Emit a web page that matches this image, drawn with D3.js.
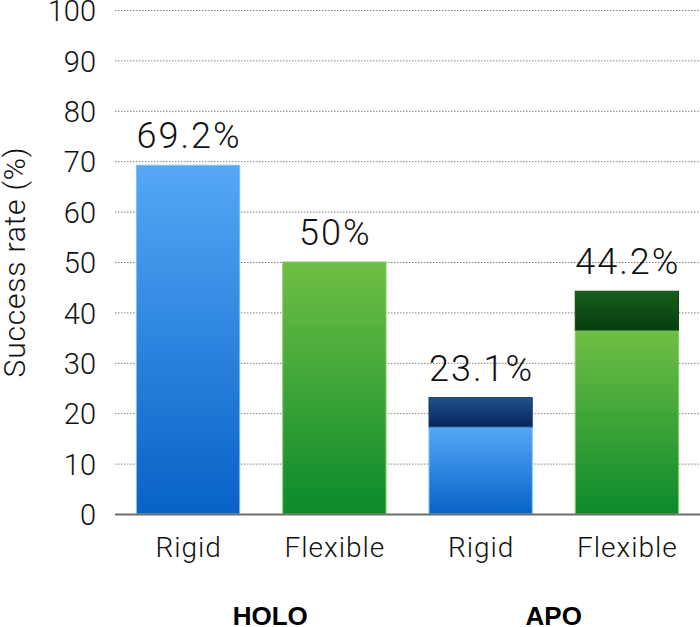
<!DOCTYPE html>
<html>
<head>
<meta charset="utf-8">
<script src="https://cdn.jsdelivr.net/npm/d3@7"></script>
<style>
  html, body { margin: 0; padding: 0; background: #fff; }
  svg { display: block; }
</style>
</head>
<body>
<svg id="chart" width="700" height="627"></svg>
<script>
// ---- data ----
const categories = ["Rigid", "Flexible", "Rigid", "Flexible"];
const groups = ["HOLO", "HOLO", "APO", "APO"];
const groupNames = ["HOLO", "APO"];
const totals = [69.2, 50, 23.1, 44.2];
const lowerValues = [69.2, 50, 17.3, 36.5];
const valueLabels = ["69.2%", "50%", "23.1%", "44.2%"];
const colorKinds = ["blue", "green", "blue", "green"];
const yTicks = [0, 10, 20, 30, 40, 50, 60, 70, 80, 90, 100];

// ---- layout ----
const svg = d3.select("#chart");
const x0 = 115, x1 = 700, yBottom = 514, yTop = 10;
const groupLabelShift = { HOLO: 9, APO: 0 };
const lightFont = "Roboto, 'Helvetica Neue', Helvetica, Arial, sans-serif";

const x = d3.scaleBand().domain(d3.range(categories.length))
  .range([x0, x1]).paddingInner(0.287).paddingOuter(0.1435);
const y = d3.scaleLinear().domain([0, 100]).range([yBottom, yTop]);

// gradients
const defs = svg.append("defs");
function grad(id, top, bottom) {
  const g = defs.append("linearGradient").attr("id", id)
    .attr("x1", 0).attr("y1", 0).attr("x2", 0).attr("y2", 1);
  g.append("stop").attr("offset", "0%").attr("stop-color", top);
  g.append("stop").attr("offset", "100%").attr("stop-color", bottom);
}
grad("g-blue", "#54a8f6", "#0862c6");
grad("g-green", "#6fbf45", "#0c8a2b");
grad("g-blue-dark", "#1f4f8c", "#05265a");
grad("g-green-dark", "#185e1c", "#063d0e");
const edge = { blue: "#7cc0fa", green: "#86cc5e", "blue-dark": "#17406f", "green-dark": "#0c4812" };

// gridlines
svg.append("g").selectAll("line").data(yTicks.filter(d => d > 0)).join("line")
  .attr("x1", x0).attr("x2", x1)
  .attr("y1", d => y(d) + 0.5).attr("y2", d => y(d) + 0.5)
  .attr("stroke", "#808080").attr("stroke-width", 1)
  .attr("stroke-dasharray", "1.5,1.5");

// y axis labels
const yAxis = d3.axisLeft(y).tickValues(yTicks).tickSize(0).tickPadding(0);
const ga = svg.append("g").attr("transform", `translate(96,0)`).call(yAxis);
ga.select(".domain").remove();
ga.selectAll("text")
  .attr("font-family", lightFont).attr("font-weight", 300)
  .attr("font-size", 29).attr("fill", "#111")
  .attr("dy", "0.37em");

// y title
svg.append("text")
  .attr("transform", `translate(25,${y(50)}) rotate(-90)`)
  .attr("text-anchor", "middle")
  .attr("font-family", lightFont).attr("font-weight", 300)
  .attr("font-size", 30).attr("letter-spacing", 0.8).attr("fill", "#111")
  .text("Success rate (%)");

// bars
const bars = svg.append("g");
categories.forEach((c, i) => {
  const kind = colorKinds[i];
  const bx = x(i), bw = x.bandwidth();
  bars.append("rect")
    .attr("x", bx + 0.5).attr("width", bw - 1)
    .attr("y", y(lowerValues[i])).attr("height", y(0) - y(lowerValues[i]))
    .attr("fill", `url(#g-${kind})`)
    .attr("stroke", edge[kind]).attr("stroke-width", 1);
  if (totals[i] > lowerValues[i]) {
    bars.append("rect")
      .attr("x", bx + 0.5).attr("width", bw - 1)
      .attr("y", y(totals[i])).attr("height", y(lowerValues[i]) - y(totals[i]))
      .attr("fill", `url(#g-${kind}-dark)`)
      .attr("stroke", edge[kind + "-dark"]).attr("stroke-width", 1);
  }
  svg.append("text")
    .attr("x", bx + bw / 2 + 1).attr("y", y(totals[i]) - 17)
    .attr("text-anchor", "middle")
    .attr("font-family", lightFont).attr("font-weight", 300)
    .attr("font-size", 36).attr("letter-spacing", 2).attr("fill", "#111")
    .text(valueLabels[i]);
  svg.append("text")
    .attr("x", bx + bw / 2 + 0.5).attr("y", 557)
    .attr("text-anchor", "middle")
    .attr("font-family", lightFont).attr("font-weight", 300)
    .attr("font-size", 28).attr("letter-spacing", 1).attr("fill", "#111")
    .text(c);
});

// baseline
svg.append("line")
  .attr("x1", x0).attr("x2", x1)
  .attr("y1", yBottom + 0.5).attr("y2", yBottom + 0.5)
  .attr("stroke", "#6e6e6e").attr("stroke-width", 2);

// group labels
groupNames.forEach(gname => {
  const idx = d3.range(groups.length).filter(i => groups[i] === gname);
  const cx = d3.mean(idx, i => x(i) + x.bandwidth() / 2) + groupLabelShift[gname];
  svg.append("text")
    .attr("x", cx).attr("y", 625)
    .attr("text-anchor", "middle")
    .attr("font-family", "'Liberation Sans', Arial, Helvetica, sans-serif")
    .attr("font-weight", "bold")
    .attr("font-size", 26).attr("fill", "#000")
    .text(gname);
});
</script>
</body>
</html>
